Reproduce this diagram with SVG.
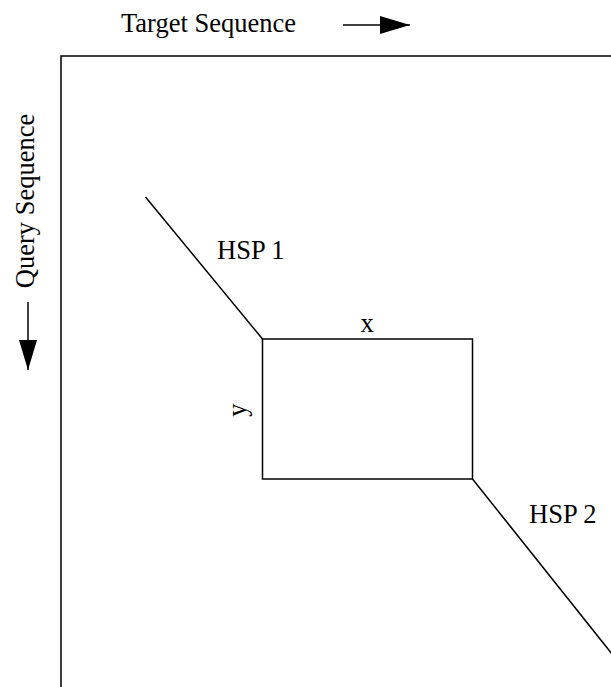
<svg xmlns="http://www.w3.org/2000/svg" width="611" height="687" viewBox="0 0 611 687">
  <style>
    .lbl { font-family: "Liberation Serif", "Times New Roman", serif; font-size: 26.5px; fill: #000; }
    .ln { stroke: #000; stroke-width: 1.5; fill: none; }
  </style>
  <defs>
    <marker id="head" markerUnits="userSpaceOnUse" markerWidth="30" markerHeight="18" refX="30" refY="9" orient="auto">
      <path d="M0,0 L30,9 L0,18 Z" fill="#000"/>
    </marker>
  </defs>
  <rect width="611" height="687" fill="#fff"/>

  <!-- axis labels -->
  <g id="target-axis">
    <text class="lbl" x="121" y="32">Target Sequence</text>
    <line class="ln" x1="343" y1="25" x2="410" y2="25" marker-end="url(#head)"/>
  </g>
  <g id="query-axis">
    <text class="lbl" transform="translate(33.5,201) rotate(-90)" text-anchor="middle">Query Sequence</text>
    <line class="ln" x1="28" y1="302" x2="28" y2="370" marker-end="url(#head)"/>
  </g>

  <!-- plot frame (open to the right and bottom) -->
  <g id="frame">
    <path class="ln" d="M61,690 L61,56 L615,56"/>
  </g>

  <!-- gap between the two hits -->
  <g id="gap">
    <rect class="ln" x="262.5" y="339" width="210" height="140"/>
    <text class="lbl" x="367" y="332" text-anchor="middle">x</text>
    <text class="lbl" transform="translate(246,410) rotate(-90)" text-anchor="middle">y</text>
  </g>

  <g id="connectors">
    <line id="hsp1-line" class="ln" x1="145.5" y1="197" x2="262.5" y2="339"/>
    <line id="hsp2-line" class="ln" x1="472.5" y1="479" x2="616" y2="659"/>
  </g>

  <g id="hsp1">
    <text class="lbl" x="217" y="259">HSP 1</text>
  </g>
  <g id="hsp2">
    <text class="lbl" x="529" y="523">HSP 2</text>
  </g>
</svg>
